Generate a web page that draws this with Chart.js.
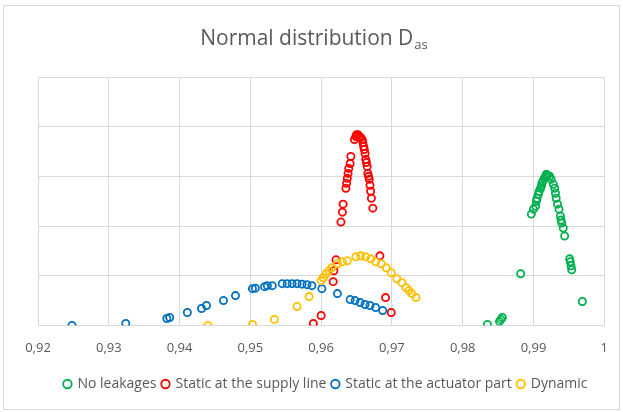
<!DOCTYPE html>
<html>
<head>
<meta charset="utf-8">
<script src="https://cdn.jsdelivr.net/npm/chart.js@4.4.1/dist/chart.umd.min.js"></script>
<style>
  html, body { margin: 0; padding: 0; background: #fff; }
  #wrap { position: relative; width: 623px; height: 412px; }
</style>
</head>
<body>
<div id="wrap"><canvas id="chart"></canvas></div>
<script>
// ===== Data =====
const seriesNames = ['No leakages', 'Static at the supply line', 'Static at the actuator part', 'Dynamic'];
const seriesColors = ['#00b050', '#ff0000', '#0070c0', '#ffc000'];

const noLeakX = [0.9835, 0.9852, 0.9854, 0.9856, 0.9882, 0.9897, 0.9900, 0.9903, 0.9904, 0.9905, 0.9907, 0.9908, 0.9910, 0.9911, 0.9912, 0.9913, 0.9915, 0.9917, 0.9918, 0.9920, 0.9923, 0.9925, 0.9928, 0.9930, 0.9931, 0.9932, 0.9934, 0.9936, 0.9938, 0.9939, 0.9940, 0.9942, 0.9944, 0.9951, 0.9952, 0.9953, 0.9954, 0.9969];
const noLeakY = [0.02, 0.08, 0.12, 0.16, 1.04, 2.24, 2.34, 2.40, 2.50, 2.56, 2.64, 2.70, 2.76, 2.80, 2.86, 2.90, 2.96, 3.00, 3.04, 3.02, 3.00, 2.94, 2.84, 2.76, 2.66, 2.56, 2.44, 2.34, 2.20, 2.12, 2.06, 1.96, 1.80, 1.34, 1.28, 1.20, 1.12, 0.48];

const supplyX = [0.9589, 0.9600, 0.9617, 0.9618, 0.9621, 0.9628, 0.9630, 0.9631, 0.9635, 0.9636, 0.9637, 0.9638, 0.9639, 0.9641, 0.9642, 0.9647, 0.9649, 0.9650, 0.9651, 0.9652, 0.9654, 0.9656, 0.9658, 0.9659, 0.9660, 0.9661, 0.9662, 0.9663, 0.9664, 0.9665, 0.9666, 0.9667, 0.9668, 0.9669, 0.9670, 0.9671, 0.9673, 0.9683, 0.9691, 0.9699];
const supplyY = [0.04, 0.20, 0.88, 1.10, 1.32, 2.08, 2.28, 2.44, 2.76, 2.86, 2.96, 3.06, 3.16, 3.26, 3.40, 3.74, 3.80, 3.84, 3.82, 3.84, 3.80, 3.78, 3.74, 3.68, 3.60, 3.54, 3.46, 3.34, 3.28, 3.20, 3.06, 3.00, 2.94, 2.82, 2.70, 2.56, 2.36, 1.40, 0.56, 0.26];

const actuatorX = [0.9248, 0.9324, 0.9382, 0.9386, 0.9411, 0.9431, 0.9438, 0.9462, 0.9479, 0.9503, 0.9507, 0.9520, 0.9524, 0.9531, 0.9545, 0.9552, 0.9559, 0.9566, 0.9573, 0.9580, 0.9587, 0.9601, 0.9623, 0.9641, 0.9648, 0.9655, 0.9662, 0.9669, 0.9677, 0.9687];
const actuatorY = [0.00, 0.04, 0.14, 0.16, 0.26, 0.34, 0.40, 0.50, 0.60, 0.74, 0.75, 0.78, 0.80, 0.80, 0.84, 0.84, 0.84, 0.84, 0.83, 0.82, 0.80, 0.74, 0.64, 0.52, 0.50, 0.46, 0.42, 0.40, 0.36, 0.30];

const dynamicX = [0.9440, 0.9503, 0.9534, 0.9566, 0.9583, 0.9600, 0.9603, 0.9607, 0.9611, 0.9615, 0.9623, 0.9630, 0.9637, 0.9649, 0.9656, 0.9663, 0.9670, 0.9677, 0.9685, 0.9692, 0.9699, 0.9707, 0.9714, 0.9720, 0.9724, 0.9728, 0.9734];
const dynamicY = [0.00, 0.02, 0.12, 0.38, 0.58, 0.90, 0.96, 1.04, 1.10, 1.16, 1.24, 1.28, 1.30, 1.38, 1.40, 1.38, 1.34, 1.28, 1.24, 1.16, 1.06, 0.94, 0.86, 0.76, 0.70, 0.64, 0.56];

const xValues = [noLeakX, supplyX, actuatorX, dynamicX];
const yValues = [noLeakY, supplyY, actuatorY, dynamicY];

const textColor = '#595959';
const gridColor = '#d9d9d9';

function toPoints(xs, ys) {
  return xs.map((x, i) => ({ x, y: ys[i] }));
}

// frame around the whole chart + white background
const framePlugin = {
  id: 'frame',
  beforeDraw(chart) {
    const ctx = chart.ctx;
    ctx.save();
    ctx.fillStyle = '#fff';
    ctx.fillRect(0, 0, chart.width, chart.height);
    ctx.strokeStyle = gridColor;
    ctx.lineWidth = 1;
    ctx.strokeRect(3.5, 5.5, chart.width - 7, chart.height - 8);
    ctx.restore();
  },
};

// title with a subscript, the built-in title can't do that
const subTitlePlugin = {
  id: 'subTitle',
  afterDraw(chart) {
    const ctx = chart.ctx;
    const main = 'Normal distribution D';
    const sub = 'as';
    ctx.save();
    ctx.fillStyle = textColor;
    ctx.textBaseline = 'alphabetic';
    ctx.font = '21px "Open Sans", sans-serif';
    const w1 = ctx.measureText(main).width;
    ctx.font = '13px "Open Sans", sans-serif';
    const w2 = ctx.measureText(sub).width;
    const x0 = 314 - (w1 + w2 + 1) / 2;
    const base = 45;
    ctx.font = '21px "Open Sans", sans-serif';
    ctx.fillText(main, x0, base);
    ctx.font = '13px "Open Sans", sans-serif';
    ctx.fillText(sub, x0 + w1 + 1, base + 4);
    ctx.restore();
  },
};

const datasets = seriesNames.map((name, i) => ({
  label: name,
  data: toPoints(xValues[i], yValues[i]),
  borderColor: seriesColors[i],
  backgroundColor: 'rgba(0,0,0,0)',
  pointBorderColor: seriesColors[i],
  pointBackgroundColor: 'rgba(0,0,0,0)',
  pointRadius: 3.6,
  pointHoverRadius: 3.6,
  pointBorderWidth: 1.8,
  showLine: false,
  order: seriesNames.length - i, // later series on top, like Excel
}));

new Chart(document.getElementById('chart'), {
  type: 'scatter',
  data: { datasets },
  options: {
    responsive: true,
    maintainAspectRatio: false,
    animation: false,
    layout: {
      padding: { top: 77, left: 38, right: 9, bottom: 11 },
    },
    scales: {
      x: {
        type: 'linear',
        min: 0.92,
        max: 1,
        grid: { color: gridColor, drawTicks: false },
        border: { color: gridColor },
        ticks: {
          stepSize: 0.01,
          color: textColor,
          padding: 15,
          font: { family: "'Open Sans', sans-serif", size: 13 },
          callback: (v) => {
            const r = Math.round(v * 100) / 100;
            return r === 1 ? '1' : r.toFixed(2).replace('.', ',');
          },
        },
      },
      y: {
        min: 0,
        max: 5,
        grid: { color: gridColor, drawTicks: false },
        border: { display: false },
        ticks: { display: false, stepSize: 1 },
      },
    },
    plugins: {
      title: { display: false },
      tooltip: { enabled: false },
      legend: {
        position: 'bottom',
        labels: {
          usePointStyle: true,
          boxWidth: 6,
          boxHeight: 6,
          padding: 6,
          color: textColor,
          font: { family: "'Open Sans', sans-serif", size: 14 },
          sort: (a, b) => a.datasetIndex - b.datasetIndex,
        },
      },
    },
  },
  plugins: [framePlugin, subTitlePlugin],
});
</script>
</body>
</html>
